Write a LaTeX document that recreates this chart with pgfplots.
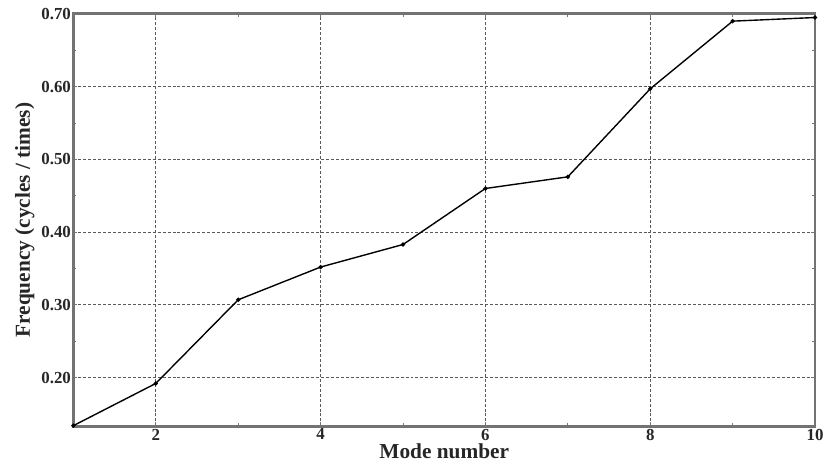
\documentclass[border=0pt]{standalone}
\usepackage{pgfplots}
\pgfplotsset{compat=1.18}
\usepackage{fontspec}
\setmainfont{Liberation Serif}
\begin{document}
\begin{tikzpicture}
\path[use as bounding box] (-74pt,-42pt) rectangle (756pt,430pt);
\begin{axis}[
  at={(0pt,0pt)}, anchor=origin,
  scale only axis, width=748pt, height=416pt,
  xmin=1, xmax=10, ymin=0.133, ymax=0.70,
  xtick={2,4,6,8,10}, ytick={0.2,0.3,0.4,0.5,0.6,0.7},
  minor x tick num=1, minor y tick num=1,
  tick align=inside,
  major tick length=4pt, minor tick length=3pt,
  /pgf/number format/assume math mode=true,
  xticklabel={\pgfmathprintnumber{\tick}},
  yticklabel={\pgfmathprintnumber[fixed,fixed zerofill,precision=2]{\tick}},
  ticklabel style={font=\bfseries\fontsize{17}{18}\selectfont, text=black!85},
  xticklabel style={yshift=1pt},
  yticklabel style={xshift=1pt},
  grid=major,
  major grid style={densely dashed, black!65, line width=0.9pt},
  axis line style={black!55, line width=2.8pt},
  tick style={black!55, line width=0.8pt},
  xlabel={Mode number}, ylabel={Frequency (cycles / times)},
  label style={font=\bfseries\fontsize{21.5}{22}\selectfont, text=black!85},
  xlabel style={yshift=3pt},
  ylabel style={yshift=0pt},
  clip=false,
]
\addplot[black, line width=1.4pt, mark=*, mark size=1.4pt] coordinates {
(1,0.134) (2,0.192) (3,0.307) (4,0.352) (5,0.383) (6,0.460) (7,0.476) (8,0.597) (9,0.690) (10,0.695)
};
\end{axis}
\end{tikzpicture}
\end{document}
